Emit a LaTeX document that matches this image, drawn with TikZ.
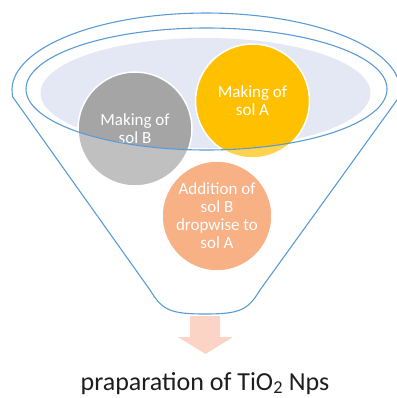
\documentclass[tikz,border=0pt]{standalone}
\usepackage{fontspec}
\setmainfont{Carlito}
\definecolor{rimblue}{HTML}{5B9BD5}
\definecolor{bowl}{HTML}{E4E8F5}
\definecolor{graystep}{HTML}{A5A5A5}
\definecolor{goldstep}{HTML}{FFC000}
\definecolor{peachstep}{HTML}{F58E51}
\definecolor{outflow}{HTML}{FCD4C6}
\definecolor{caption}{HTML}{1E1E1E}
\tikzset{
  stepdisc/.style={circle, draw=white, line width=1.5pt, minimum size=#1, inner sep=0pt,
    align=center, text=white, font=\fontsize{17}{18}\selectfont},
  rim/.style={draw=rimblue, line width=1.1pt},
}
\begin{document}
\begin{tikzpicture}[x=1pt, y=-1pt]
\useasboundingbox (0,0) rectangle (396,398);
% funnel body outline (top arc of the outer rim, sides, rounded spout)
\def\funnelpath{(12.8,97) arc[start angle=174.8, end angle=365.2, x radius=194, y radius=77]
  -- (260,290) .. controls (248,310) and (240,314) .. (205,314)
  .. controls (170,314) and (162,310) .. (150,290) -- cycle}
% liquid surface inside the rim
\fill[bowl] (205.5,93) ellipse[x radius=165, y radius=55];
% process steps
\node[stepdisc=114pt, fill=graystep] (solB) at (135,129) {Making of\\sol B};
\node[stepdisc=114pt, fill=goldstep] (solA) at (252.5,101) {Making of\\sol A};
\node[stepdisc=110pt, fill=peachstep] (mix) at (217,216) {Addition of\\sol B\\dropwise to\\sol A};
% translucent front wall of the funnel below the rim
\fill[white, opacity=0.3, even odd rule] \funnelpath (206.5,89) ellipse[x radius=180.5, y radius=61];
% outlines
\draw[rim] \funnelpath;
\draw[rim] (206.5,89) ellipse[x radius=180.5, y radius=61];
% output arrow
\fill[outflow] (190,316) -- (220,316) -- (220,337) -- (233,337) -- (205.5,354)
  -- (178,337) -- (190,337) -- cycle;
\node[anchor=base, text=caption, font=\fontsize{26}{30}\selectfont, inner sep=0pt]
  (result) at (205,390) {praparation of TiO\textsubscript{2} Nps};
\end{tikzpicture}
\end{document}
